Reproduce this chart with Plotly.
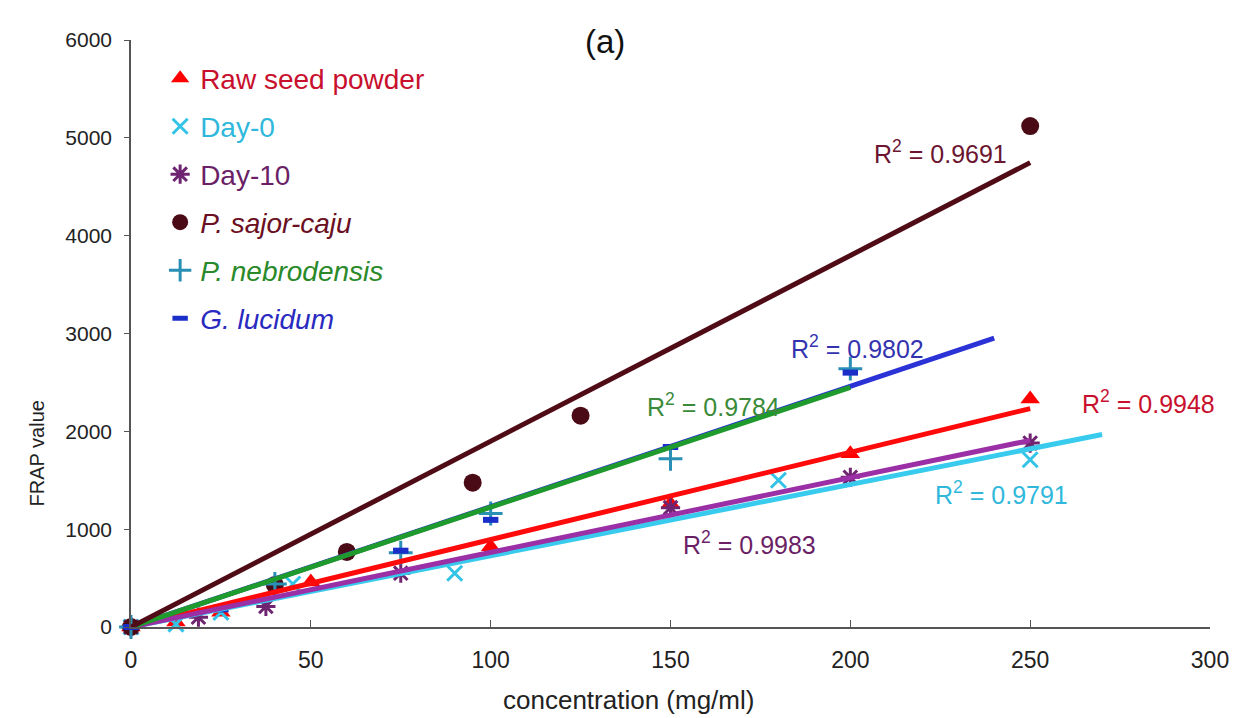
import numpy as np
import plotly.graph_objects as go

# FRAP value vs. concentration (mg/ml) for each sample
raw_x = [0, 12.5, 25, 50, 100, 150, 200, 250]
raw_y = [0, 50, 150, 460, 820, 1260, 1770, 2330]

day0_x = [0, 12.5, 25, 45, 90, 180, 250]
day0_y = [0, 30, 150, 440, 550, 1500, 1710]

day10_x = [0, 18.75, 37.5, 75, 150, 200, 250]
day10_y = [0, 100, 210, 550, 1220, 1530, 1880]

sajor_x = [0, 40, 60, 95, 125, 250]
sajor_y = [0, 430, 767, 1475, 2160, 5120]

nebro_x = [0, 40, 75, 100, 150, 200]
nebro_y = [0, 440, 760, 1160, 1720, 2640]

gluc_x = [0, 25, 75, 100, 150, 200]
gluc_y = [0, 180, 780, 1095, 1840, 2600]

r2_labels = ["0.9948", "0.9791", "0.9983", "0.9691", "0.9784", "0.9802"]

x_ticks = [0, 50, 100, 150, 200, 250, 300]
y_ticks = [0, 1000, 2000, 3000, 4000, 5000, 6000]

FONT = "Liberation Sans, Arial, sans-serif"

series = [
    dict(key="raw", name="Raw seed powder", x=raw_x, y=raw_y, text_color="#c8102e",
         marker=dict(symbol="triangle-up", size=17, color="#ff0000"),
         line_color="#ff0a0a", forward=0, r2=r2_labels[0], r2_color="#c8102e",
         r2_pos=(283, 2300)),
    dict(key="day0", name="Day-0", x=day0_x, y=day0_y, text_color="#2fb8dc",
         marker=dict(symbol="x-thin", size=15, color="#33c3e6",
                     line=dict(color="#33c3e6", width=3)),
         line_color="#38cbee", forward=20, r2=r2_labels[1], r2_color="#2fb8dc",
         r2_pos=(242, 1370)),
    dict(key="day10", name="Day-10", x=day10_x, y=day10_y, text_color="#6a1f66",
         marker=dict(symbol="asterisk", size=16, color="#6e2470",
                     line=dict(color="#6e2470", width=3)),
         line_color="#9a2fa6", forward=0, r2=r2_labels[2], r2_color="#6a1f66",
         r2_pos=(172, 859)),
    dict(key="sajor", name="<i>P. sajor-caju</i>", x=sajor_x, y=sajor_y, text_color="#6b0f22",
         marker=dict(symbol="circle", size=18, color="#4a0a16"),
         line_color="#4f0c16", forward=0, r2=r2_labels[3], r2_color="#6b1530",
         r2_pos=(225, 4857)),
    dict(key="nebro", name="<i>P. nebrodensis</i>", x=nebro_x, y=nebro_y, text_color="#2a8a2a",
         marker=dict(symbol="cross-thin", size=17, color="#2a8fb5",
                     line=dict(color="#2a8fb5", width=3)),
         line_color="#1f9a2c", forward=0, r2=r2_labels[4], r2_color="#3a8a3a",
         r2_pos=(162, 2270)),
    dict(key="gluc", name="<i>G. lucidum</i>", x=gluc_x, y=gluc_y, text_color="#2a2ac0",
         marker=dict(symbol="line-ew", size=11, color="#1a2fc8",
                     line=dict(color="#1a2fc8", width=6)),
         line_color="#2b32d6", forward=40, r2=r2_labels[5], r2_color="#3333b0",
         r2_pos=(202, 2863)),
]

fig = go.Figure()

# scatter points (with legend entries)
for s in series:
    fig.add_trace(go.Scatter(
        x=s["x"], y=s["y"], mode="markers",
        name=f'<span style="color:{s["text_color"]}">{s["name"]}</span>',
        legendgroup=s["key"], marker=s["marker"], cliponaxis=False,
    ))

# linear trendlines through the origin, least-squares fit of each series
draw_order = ["gluc", "day0", "raw", "day10", "nebro", "sajor"]
by_key = {s["key"]: s for s in series}
for key in draw_order:
    s = by_key[key]
    x = np.asarray(s["x"], dtype=float)
    y = np.asarray(s["y"], dtype=float)
    slope = float(x @ y) / float(x @ x)
    x_end = x.max() + s["forward"]
    fig.add_trace(go.Scatter(
        x=[0, x_end], y=[0, slope * x_end], mode="lines",
        line=dict(color=s["line_color"], width=5),
        showlegend=False, hoverinfo="skip", legendgroup=key,
    ))

# R² labels
for s in series:
    fig.add_annotation(
        x=s["r2_pos"][0], y=s["r2_pos"][1], xref="x", yref="y",
        text=f"R<sup>2</sup> = {s['r2']}", showarrow=False,
        font=dict(family=FONT, size=25, color=s["r2_color"]),
    )

# panel label
fig.add_annotation(
    x=0.4395, y=0.997, xref="paper", yref="paper", yanchor="middle",
    text="(a)", showarrow=False,
    font=dict(family=FONT, size=33, color="#111"),
)

# axis titles
fig.add_annotation(
    x=0.461, y=-0.125, xref="paper", yref="paper", yanchor="middle",
    text="concentration (mg/ml)", showarrow=False,
    font=dict(family=FONT, size=26, color="#222"),
)
fig.add_annotation(
    x=-0.0875, y=0.295, xref="paper", yref="paper", xanchor="center", yanchor="middle",
    text="FRAP value", textangle=-90, showarrow=False,
    font=dict(family=FONT, size=20, color="#222"),
)

fig.update_layout(
    width=1241, height=718, autosize=False,
    margin=dict(l=131, r=24, t=40, b=91),
    paper_bgcolor="white", plot_bgcolor="white",
    font=dict(family=FONT, color="#222"),
    showlegend=True,
    legend=dict(
        x=0.027, y=0.977, xanchor="left", yanchor="top",
        font=dict(family=FONT, size=28),
        tracegroupgap=8.6, bgcolor="rgba(0,0,0,0)", itemsizing="trace",
    ),
    xaxis=dict(
        range=[0, 300], tickvals=x_ticks, ticks="inside", ticklen=7, tickcolor="#555",
        showline=True, linecolor="#555", linewidth=1.5, showgrid=False, zeroline=False,
        tickfont=dict(family=FONT, size=23, color="#222"), ticklabelstandoff=12,
    ),
    yaxis=dict(
        range=[0, 6000], tickvals=y_ticks, ticks="outside", ticklen=5, tickcolor="#555",
        showline=True, linecolor="#555", linewidth=1.5, showgrid=False, zeroline=False,
        tickfont=dict(family=FONT, size=21, color="#222"), ticklabelstandoff=8,
    ),
)

fig.write_html("out.html")
